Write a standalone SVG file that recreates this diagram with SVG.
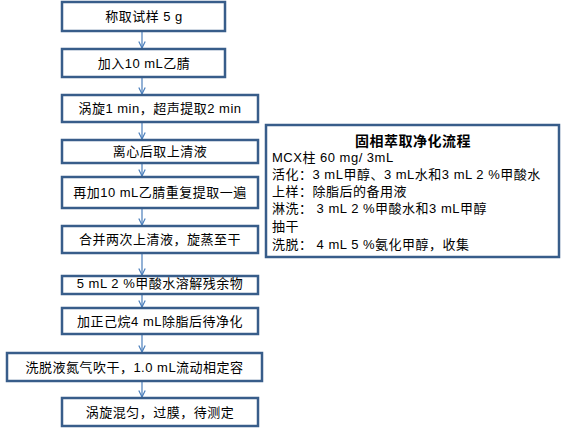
<svg xmlns="http://www.w3.org/2000/svg" width="564" height="431" viewBox="0 0 564 431">
<defs>
<marker id="ah" viewBox="0 0 10 10" refX="9" refY="5" markerWidth="8" markerHeight="8" markerUnits="userSpaceOnUse" orient="auto">
<path d="M1,1 L9,5 L1,9" fill="none" stroke="#4A7EBB" stroke-width="1.5"/>
</marker>
<style>
.box{fill:#fff;stroke:#385D8A;stroke-width:2.5}
.t{font-family:"Liberation Sans","Noto Sans CJK SC",sans-serif;font-size:13px;fill:#000;text-anchor:middle;letter-spacing:0.5px}
.l{font-family:"Liberation Sans","Noto Sans CJK SC",sans-serif;font-size:13px;fill:#000;letter-spacing:0.5px}
.b{font-weight:bold;text-anchor:middle;font-size:14px}
.c{stroke:#4A7EBB;stroke-width:1.2;fill:none;marker-end:url(#ah)}
</style>
</defs>
<rect width="564" height="431" fill="#fff"/>
<g id="connectors">
<line class="c" x1="142" y1="31" x2="142" y2="48"/>
<line class="c" x1="142" y1="77" x2="142" y2="94"/>
<line class="c" x1="142" y1="122" x2="142" y2="139"/>
<line class="c" x1="142" y1="163" x2="142" y2="176"/>
<line class="c" x1="142" y1="208" x2="142" y2="225"/>
<line class="c" x1="142" y1="253" x2="142" y2="275"/>
<line class="c" x1="142" y1="294" x2="142" y2="307"/>
<line class="c" x1="142" y1="334" x2="142" y2="352"/>
<line class="c" x1="142" y1="381" x2="142" y2="397"/>
</g>
<g id="n1"><rect class="box" x="62" y="2" width="163" height="29"/><text class="t" x="144" y="21">称取试样 5 g</text></g>
<g id="n2"><rect class="box" x="62" y="49" width="163" height="28"/><text class="t" x="144" y="68">加入10 mL乙腈</text></g>
<g id="n3"><rect class="box" x="62" y="95" width="196" height="27"/><text class="t" x="160" y="113">涡旋1 min，超声提取2 min</text></g>
<g id="n4"><rect class="box" x="62" y="140" width="196" height="23"/><text class="t" x="160" y="156">离心后取上清液</text></g>
<g id="n5"><rect class="box" x="62" y="177" width="196" height="31"/><text class="t" x="160" y="197">再加10 mL乙腈重复提取一遍</text></g>
<g id="n6"><rect class="box" x="62" y="226" width="196" height="27"/><text class="t" x="160" y="244">合并两次上清液，旋蒸至干</text></g>
<g id="n7"><rect class="box" x="62" y="276" width="196" height="18"/><text class="t" x="160" y="288">5 mL 2 %甲酸水溶解残余物</text></g>
<g id="n8"><rect class="box" x="62" y="308" width="196" height="26"/><text class="t" x="160" y="326">加正己烷4 mL除脂后待净化</text></g>
<g id="n9"><rect class="box" x="7" y="353" width="255" height="28"/><text class="t" x="134.5" y="372">洗脱液氮气吹干，1.0 mL流动相定容</text></g>
<g id="n10"><rect class="box" x="62" y="398" width="196" height="28"/><text class="t" x="160" y="417">涡旋混匀，过膜，待测定</text></g>
<g id="spe">
<rect class="box" x="266" y="125" width="293" height="132"/>
<text class="l b" x="413" y="146">固相萃取净化流程</text>
<text class="l" x="272" y="162">MCX柱 60 mg/ 3mL</text>
<text class="l" x="272" y="179">活化：3 mL甲醇、3 mL水和3 mL 2 %甲酸水</text>
<text class="l" x="272" y="196">上样：除脂后的备用液</text>
<text class="l" x="272" y="213">淋洗： 3 mL 2 %甲酸水和3 mL甲醇</text>
<text class="l" x="272" y="231">抽干</text>
<text class="l" x="272" y="249">洗脱： 4 mL 5 %氨化甲醇，收集</text>
</g>
</svg>
